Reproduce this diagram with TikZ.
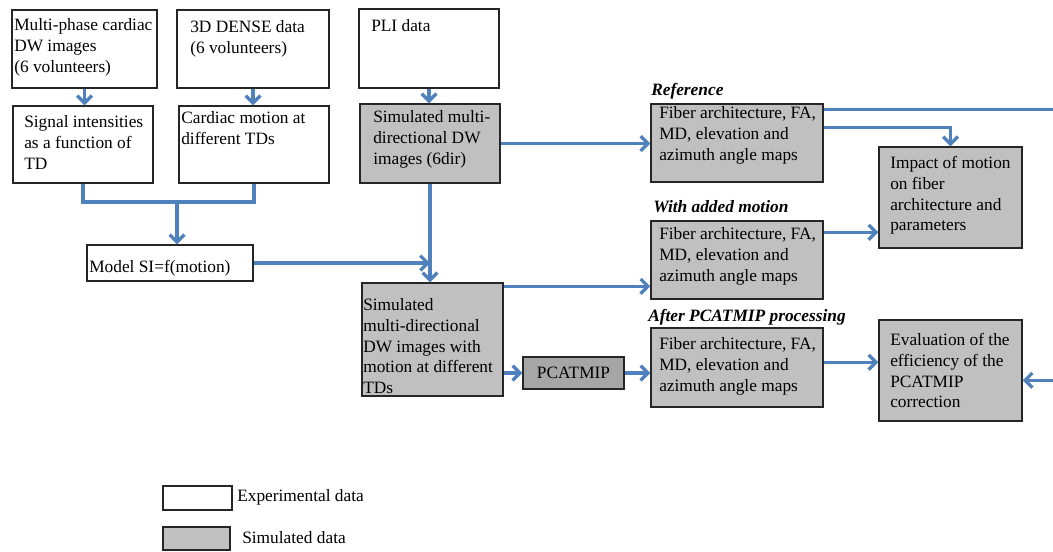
\documentclass[tikz,border=0pt]{standalone}
\usepackage{fontspec}
\setmainfont{Liberation Serif}
\usetikzlibrary{arrows.meta,fit,calc}
\definecolor{arrblue}{HTML}{4F81BD}
\definecolor{simgray}{HTML}{C0C0C0}
\definecolor{pcagray}{HTML}{A6A6A6}
\begin{document}
\begin{tikzpicture}[x=0.75pt,y=-0.75pt,
 boxbase/.style={draw=black!85, line width=1.1pt, inner sep=0pt},
 expbox/.style={boxbase, fill=white},
 simbox/.style={boxbase, fill=simgray},
 pcabox/.style={boxbase, fill=pcagray},
 txt/.style={inner sep=0pt, anchor=north west, align=left, font=\fontsize{13}{15.5}\selectfont},
 lbl/.style={inner sep=0pt, anchor=west, font=\fontsize{13}{15}\selectfont\bfseries\itshape},
 arr/.style={draw=arrblue, line width=2.5pt, -{Straight Barb[length=5.5pt,width=11pt]}},
 ln/.style={draw=arrblue, line width=2.5pt},
]
\useasboundingbox (0,0) rectangle (1053,551);

% boxes
\node[expbox, fit={(12,10) (157,88)}] (b1) {};
\node[expbox, fit={(177,10) (329,88)}] (b2) {};
\node[expbox, fit={(13,106) (153,183)}] (b3) {};
\node[expbox, fit={(179,106) (329,183)}] (b4) {};
\node[expbox, fit={(359,9) (499,88)}] (pli) {};
\node[simbox, fit={(360,104) (500,183)}] (sim1) {};
\node[expbox, fit={(87,245) (253,281)}] (model) {};
\node[simbox, fit={(362,283) (503,396)}] (sim2) {};
\node[pcabox, fit={(523,357) (624,389)}] (pca) {};
\node[simbox, fit={(651,104) (823,182)}] (ref) {};
\node[simbox, fit={(651,221) (823,299)}] (fib2) {};
\node[simbox, fit={(651,328) (823,407)}] (fib3) {};
\node[simbox, fit={(879,147) (1022,248)}] (imp) {};
\node[simbox, fit={(879,320) (1022,421)}] (eval) {};
\node[expbox, fit={(163,486) (232,510)}] (leg1) {};
\node[simbox, fit={(163,527) (230,550)}] (leg2) {};

% texts
\node[txt] (t1) at (14,16) {\strut Multi-phase cardiac\\DW images\\(6 volunteers)};
\node[txt] (t2) at (190,18) {\strut 3D DENSE data\\(6 volunteers)};
\node[txt] (t3) at (24,113) {\strut Signal intensities\\as a function of\\TD};
\node[txt] (t4) at (181,109) {\strut Cardiac motion at\\different TDs};
\node[txt] (tpli) at (371,17) {\strut PLI data};
\node[txt] (ts1) at (373,108) {\strut Simulated multi-\\directional DW\\images (6dir)};
\node[txt] (tref) at (659,104) {\strut Fiber architecture, FA,\\MD, elevation and\\azimuth angle maps};
\node[txt] (tf2) at (659,225) {\strut Fiber architecture, FA,\\MD, elevation and\\azimuth angle maps};
\node[txt] (tf3) at (659,335) {\strut Fiber architecture, FA,\\MD, elevation and\\azimuth angle maps};
\node[txt] (timp) at (890,154) {\strut Impact of motion\\on fiber\\architecture and\\parameters};
\node[txt] (teval) at (890,331) {\strut Evaluation of the\\efficiency of the\\PCATMIP\\correction};
\node[txt] (tmodel) at (89,258) {\strut Model SI=f(motion)};
\node[txt] (ts2) at (363,296) {\strut Simulated\\multi-directional\\DW images with\\motion at different\\TDs};
\node[inner sep=0pt, font=\fontsize{13}{15.5}\selectfont] (tpca) at (pca) {PCATMIP};
\node[inner sep=0pt, anchor=west, font=\fontsize{13}{15.5}\selectfont] (tl1) at (237,497) {Experimental data};
\node[inner sep=0pt, anchor=west, font=\fontsize{13}{15.5}\selectfont] (tl2) at (242,538) {Simulated data};

% labels
\node[lbl] (lref) at (651,91) {Reference};
\node[lbl] (lmot) at (653,207) {With added motion};
\node[lbl] (lpca) at (648,317) {After PCATMIP processing};

% connectors
\draw[arr] (b1.south) -- (b1.south |- b3.north);
\draw[arr] (b2.south) -- (b2.south |- b4.north);
\coordinate (mj) at (177,202);
\draw[ln] (b3.south) |- (mj) -| (b4.south);
\draw[arr] (mj) -- (mj |- model.north);
\draw[arr] (pli.south) -- (pli.south |- sim1.north);
\draw[arr] (sim1.east) -- (sim1.east -| ref.west);
\draw[arr] (sim1.south) -- (sim1.south |- sim2.north);
\draw[arr] (model.east) -- (sim1.south |- model.east);
\coordinate (s2o) at ($(sim2.north east)+(0,4)$);
\draw[arr] (s2o) -- (s2o -| fib2.west);
\draw[arr] (sim2.east |- pca.west) -- (pca.west);
\draw[arr] (pca.east) -- (pca.east -| fib3.west);
\coordinate (r1) at ($(ref.north east)+(0,6)$);
\coordinate (r2) at ($(ref.north east)+(0,24)$);
\draw[arr] (r2) -| (imp.north);
\coordinate (f2o) at ($(fib2.north east)+(0,12)$);
\draw[arr] (f2o) -- (f2o -| imp.west);
\coordinate (f3o) at ($(fib3.north east)+(0,35)$);
\draw[arr] (f3o) -- (f3o -| eval.west);
\coordinate (rc) at ($(r1)+(240,0)$);
\coordinate (ei) at ($(eval.north east)+(0,61)$);
\begin{scope}
\clip (0,0) rectangle (1053,551);
\draw[arr] (r1) -- (rc) |- (ei);
\end{scope}
\end{tikzpicture}
\end{document}
